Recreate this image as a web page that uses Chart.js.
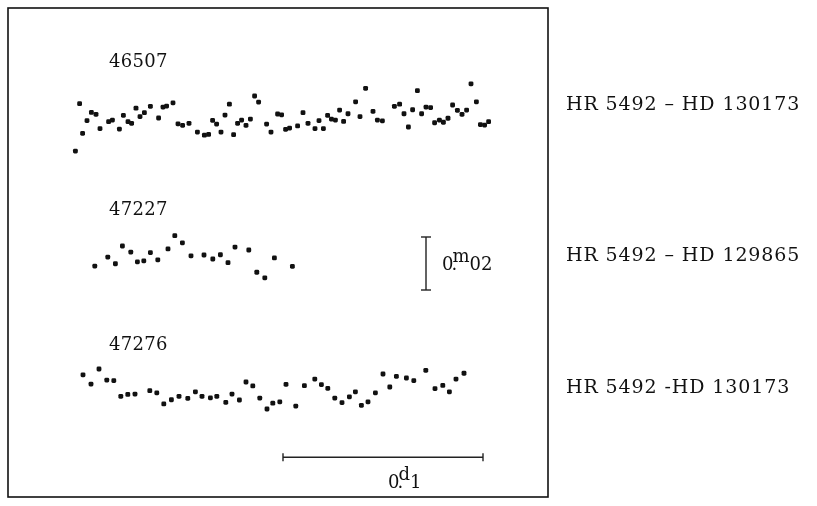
<!DOCTYPE html>
<html>
<head>
<meta charset="utf-8">
<script src="https://cdn.jsdelivr.net/npm/chart.js@4/dist/chart.umd.min.js"></script>
<style>
  html, body { margin: 0; background: #fff; }
</style>
</head>
<body>
<canvas id="lc" width="817" height="506"></canvas>
<script>
// データ (x: 日, y: 等級)
const nightLabels = ['46507', '47227', '47276'];
const pairLabels = ['HR 5492 \u2013 HD 130173', 'HR 5492 \u2013 HD 129865', 'HR 5492 -HD 130173'];

const night1X = [0.0337, 0.0358, 0.0373, 0.0395, 0.0417, 0.0440, 0.0460, 0.0503, 0.0522, 0.0557,
  0.0577, 0.0600, 0.0618, 0.0640, 0.0660, 0.0682, 0.0712, 0.0753, 0.0775, 0.0793,
  0.0825, 0.0850, 0.0873, 0.0905, 0.0947, 0.0982, 0.1003, 0.1023, 0.1043, 0.1065,
  0.1085, 0.1107, 0.1128, 0.1148, 0.1168, 0.1190, 0.1212, 0.1233, 0.1253, 0.1293,
  0.1315, 0.1348, 0.1368, 0.1388, 0.1408, 0.1448, 0.1475, 0.1500, 0.1535, 0.1555,
  0.1577, 0.1598, 0.1617, 0.1637, 0.1658, 0.1678, 0.1700, 0.1738, 0.1760, 0.1788,
  0.1825, 0.1847, 0.1872, 0.1932, 0.1958, 0.1980, 0.2002, 0.2023, 0.2047, 0.2068,
  0.2090, 0.2113, 0.2133, 0.2157, 0.2177, 0.2200, 0.2223, 0.2247, 0.2270, 0.2293,
  0.2315, 0.2342, 0.2362, 0.2383, 0.2403];
const night1Y = [0.0540, 0.0361, 0.0473, 0.0425, 0.0394, 0.0401, 0.0455, 0.0429, 0.0423, 0.0457,
  0.0405, 0.0429, 0.0435, 0.0378, 0.0410, 0.0395, 0.0371, 0.0415, 0.0374, 0.0370,
  0.0358, 0.0437, 0.0443, 0.0435, 0.0468, 0.0480, 0.0477, 0.0424, 0.0438, 0.0468,
  0.0404, 0.0363, 0.0478, 0.0435, 0.0423, 0.0443, 0.0419, 0.0332, 0.0355, 0.0438,
  0.0468, 0.0400, 0.0403, 0.0458, 0.0453, 0.0445, 0.0395, 0.0435, 0.0455, 0.0425,
  0.0455, 0.0405, 0.0419, 0.0423, 0.0385, 0.0428, 0.0399, 0.0354, 0.0410, 0.0303,
  0.0390, 0.0423, 0.0426, 0.0371, 0.0363, 0.0399, 0.0449, 0.0384, 0.0312, 0.0399,
  0.0374, 0.0376, 0.0433, 0.0423, 0.0431, 0.0416, 0.0366, 0.0386, 0.0401, 0.0385,
  0.0286, 0.0354, 0.0440, 0.0442, 0.0429];

const night2X = [0.0434, 0.0499, 0.0537, 0.0572, 0.0614, 0.0647, 0.0679, 0.0712, 0.0749, 0.0800,
  0.0834, 0.0872, 0.0915, 0.0980, 0.1024, 0.1062, 0.1100, 0.1135, 0.1204, 0.1244,
  0.1284, 0.1332, 0.1422];
const night2Y = [0.0974, 0.0940, 0.0965, 0.0898, 0.0921, 0.0958, 0.0954, 0.0923, 0.0950, 0.0909,
  0.0859, 0.0886, 0.0935, 0.0932, 0.0947, 0.0931, 0.0961, 0.0902, 0.0913, 0.0997,
  0.1018, 0.0943, 0.0975];

const night3X = [0.0375, 0.0415, 0.0455, 0.0494, 0.0529, 0.0564, 0.0599, 0.0635, 0.0709, 0.0744,
  0.0779, 0.0817, 0.0855, 0.0899, 0.0937, 0.0970, 0.1012, 0.1044, 0.1089, 0.1120,
  0.1157, 0.1190, 0.1224, 0.1259, 0.1295, 0.1324, 0.1359, 0.1390, 0.1439, 0.1482,
  0.1534, 0.1567, 0.1599, 0.1634, 0.1670, 0.1707, 0.1737, 0.1767, 0.1800, 0.1837,
  0.1875, 0.1909, 0.1942, 0.1992, 0.2029, 0.2089, 0.2135, 0.2174, 0.2207, 0.2240,
  0.2280];
const night3Y = [0.1384, 0.1419, 0.1362, 0.1404, 0.1406, 0.1465, 0.1458, 0.1457, 0.1444, 0.1452,
  0.1494, 0.1478, 0.1465, 0.1473, 0.1448, 0.1465, 0.1471, 0.1465, 0.1488, 0.1457,
  0.1479, 0.1411, 0.1426, 0.1472, 0.1513, 0.1491, 0.1486, 0.1420, 0.1502, 0.1425,
  0.1400, 0.1421, 0.1435, 0.1472, 0.1489, 0.1467, 0.1448, 0.1499, 0.1486, 0.1452,
  0.1381, 0.1430, 0.1390, 0.1396, 0.1406, 0.1367, 0.1436, 0.1424, 0.1448, 0.1400,
  0.1378];

// スケールバー (0.02 等級, 0.1 日)
const magBarX = [0.209, 0.209];
const magBarY = [0.0864, 0.1064];
const dayBarX = [0.1375, 0.2375];
const dayBarY = [0.1695, 0.1695];

// 軸の範囲
const xRange = [0, 0.27];
const yRange = [0, 0.1845];

function toPoints(xs, ys) {
    return xs.map((x, i) => ({ x: x, y: ys[i] }));
}

const FONT = '18px "DejaVu Serif"';

// 0.m02 のような天文表記
function drawAstro(ctx, x, y, lead, sup, tail) {
    ctx.font = FONT;
    ctx.textBaseline = 'alphabetic';
    ctx.textAlign = 'left';
    ctx.fillText(lead, x, y);
    const w0 = ctx.measureText(lead).width;
    ctx.fillText('.', x + w0 - 2, y);
    ctx.fillText(sup, x + w0 - 1, y - 8);
    const w1 = ctx.measureText(sup).width;
    ctx.fillText(tail, x + w0 + w1 - 1, y);
}

const framePlugin = {
    id: 'frame',
    afterDraw(chart) {
        const { ctx, chartArea: a, scales } = chart;
        const xs = scales.x, ys = scales.y;
        ctx.save();
        ctx.strokeStyle = '#111';
        ctx.lineWidth = 1.6;
        ctx.strokeRect(a.left, a.top, a.right - a.left, a.bottom - a.top);

        ctx.fillStyle = '#111';
        ctx.font = FONT;
        ctx.textBaseline = 'middle';
        // 観測夜のラベル
        ctx.letterSpacing = '0.3px';
        const nightY = [62, 210, 345];
        nightLabels.forEach((t, i) => ctx.fillText(t, xs.getPixelForValue(0.0505), nightY[i]));
        // 比較星のラベル
        ctx.font = '19px "DejaVu Serif"';
        ctx.letterSpacing = '0.9px';
        const pairY = [105, 256, 388];
        pairLabels.forEach((t, i) => ctx.fillText(t, a.right + 18, pairY[i]));
        ctx.letterSpacing = '0px';

        // スケールバーの注記
        drawAstro(ctx, xs.getPixelForValue(0.217), ys.getPixelForValue(0.0990), '0', 'm', '02');
        drawAstro(ctx, xs.getPixelForValue(0.190), ys.getPixelForValue(0.1810), '0', 'd', '1');
        ctx.restore();
    }
};

const dotStyle = {
    showLine: false,
    pointStyle: 'rectRounded',
    pointRadius: 2.8,
    pointHoverRadius: 2.8,
    pointBackgroundColor: '#111',
    pointBorderColor: '#111',
    pointBorderWidth: 0
};

const barStyle = {
    showLine: true,
    borderColor: '#222',
    borderWidth: 1.4,
    pointBorderColor: '#222',
    pointBorderWidth: 1.4,
    pointStyle: 'line'
};

new Chart(document.getElementById('lc'), {
    type: 'scatter',
    data: {
        datasets: [
            Object.assign({ data: toPoints(night1X, night1Y) }, dotStyle),
            Object.assign({ data: toPoints(night2X, night2Y) }, dotStyle),
            Object.assign({ data: toPoints(night3X, night3Y) }, dotStyle),
            Object.assign({ data: toPoints(magBarX, magBarY), pointRadius: 5, pointRotation: 0 }, barStyle),
            Object.assign({ data: toPoints(dayBarX, dayBarY), pointRadius: 4, pointRotation: 90 }, barStyle)
        ]
    },
    options: {
        responsive: false,
        animation: false,
        devicePixelRatio: 1,
        layout: { padding: { left: 8, top: 8, right: 269, bottom: 9 } },
        plugins: { legend: { display: false }, tooltip: { enabled: false } },
        scales: {
            x: { type: 'linear', display: false, min: xRange[0], max: xRange[1] },
            y: { type: 'linear', display: false, min: yRange[0], max: yRange[1], reverse: true }
        }
    },
    plugins: [framePlugin]
});
</script>
</body>
</html>
